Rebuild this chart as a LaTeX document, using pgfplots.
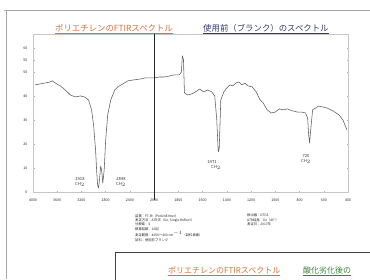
\documentclass[border=0pt]{standalone}
\usepackage{fontspec}
\setmainfont{Noto Sans CJK JP}
\usepackage{pgfplots}
\pgfplotsset{compat=1.18}
\usepackage{pgfplotstable}
\definecolor{ttlorange}{RGB}{214,112,62}
\definecolor{ttlblue}{RGB}{52,58,112}
\definecolor{ttlgreen}{RGB}{62,128,62}
\definecolor{trace}{RGB}{90,90,90}

\pgfplotstableread{
wn T
3967 44.6
3883 45.0
3800 45.4
3717 45.8
3683 46.3
3633 45.4
3550 44.2
3467 42.5
3383 40.4
3300 39.6
3217 40.0
3150 39.6
3083 38.3
3033 34.2
3000 27.9
2967 17.5
2950 9.2
2933 2.9
2918 1.7
2900 5.8
2883 10.8
2867 9.2
2848 3.7
2825 9.2
2800 21.7
2767 32.1
2717 38.3
2650 42.5
2600 43.8
2517 45.0
2433 46.3
2333 46.7
2217 47.1
2150 47.5
2050 47.5
2000 47.5
1958 47.9
1917 47.9
1875 48.3
1833 48.8
1792 48.8
1775 50.0
1767 56.7
1758 55.0
1750 41.3
1725 40.4
1692 40.8
1658 41.7
1625 42.9
1592 41.7
1558 42.5
1525 41.7
1500 40.0
1483 30.0
1471 16.7
1463 18.0
1458 25.8
1450 38.3
1425 41.7
1400 43.3
1375 44.6
1350 44.2
1325 45.4
1300 45.8
1275 44.6
1250 45.4
1225 44.2
1192 43.8
1158 41.7
1125 38.3
1100 37.1
1067 34.2
1033 32.9
1000 33.3
967 34.6
933 34.2
900 34.6
858 33.8
817 33.3
783 33.3
750 32.9
733 30.8
725 23.8
717 20.4
708 25.8
692 34.2
667 35.0
642 35.8
608 35.4
575 35.0
542 34.2
508 33.3
475 32.1
442 30.0
408 25.8
}\spectrum

\begin{document}
\begin{tikzpicture}
\begin{scope}[x=1pt,y=-1pt]
\useasboundingbox (0,0) rectangle (370,279);
\end{scope}
\path[clip] (0pt,0pt) rectangle (370pt,-279pt);
\fill[white] (0pt,0pt) rectangle (370pt,-279pt);

\begin{axis}[
  at={(33pt,-192pt)}, anchor=south west,
  scale only axis, width=315pt, height=158pt,
  xmin=0, xmax=13, ymin=0, ymax=65.8,
  clip=false,
  axis line style={gray!45, line width=0.5pt},
  xtick={0,...,13},
  xticklabels={4000,3600,3200,2800,2400,2000,1800,1600,1400,1200,1000,800,600,400},
  ytick={0,10,20,30,40,50,55,60},
  yticklabels={0,10,20,30,40,50,55,60},
  tick label style={font=\fontsize{3.6}{4}\selectfont, text=black!85},
  xticklabel style={yshift=-3pt},
  yticklabel style={xshift=-2pt},
  major tick length=1.5pt,
  tick style={gray!60, line width=0.4pt},
  /pgf/number format/assume math mode=true,
]
\addplot[trace, line width=0.55pt, line join=round]
  table[x expr={\thisrow{wn}>=2000 ? (4000-\thisrow{wn})/400 : 5+(2000-\thisrow{wn})/200}, y=T] {\spectrum};
\draw[black!85, line width=0.8pt] (axis cs:5,65.8) -- (axis cs:5,-3.5);
\end{axis}

\begin{scope}[x=1pt,y=-1pt]
% page borders
\draw[gray!70, line width=1pt] (4,10) -- (370,10);
\draw[gray!70, line width=0.8pt] (6,10) -- (6,279);
% title
\node[anchor=base west, inner sep=0pt, font=\fontsize{8.4}{9}\selectfont, text=ttlorange] at (55,31)
  {\underline{ポリエチレンのFTIRスペクトル}};
\node[anchor=base west, inner sep=0pt, font=\fontsize{8.4}{9}\selectfont, text=ttlblue] at (203,31)
  {\underline{使用前（ブランク）のスペクトル}};
% peak labels
\begin{scope}[font=\fontsize{4.2}{4.8}\selectfont, text=black!80, inner sep=0pt, align=center]
\node at (80,182) {2918\\[0.6pt]CH$_2$};
\node at (121,182) {2848\\[0.6pt]CH$_2$};
\node at (212,165) {1471\\[0.6pt]\hspace*{8pt}CH$_2$};
\node at (306,159) {720\\[0.6pt]CH$_2$};
\end{scope}
% measurement info
\begin{scope}[font=\fontsize{3.3}{4.4}\selectfont, text=black!85, inner sep=0pt]
\node[anchor=north west, align=left] at (135,214)
  {装置：FT-IR（PerkinElmer）\\
   測定方法：ATR法（Ge, Single Reflect）\\
   分解能：4\\
   積算回数：16回\\
   測定範囲：4000〜400 cm$^{-1}$（試料表面）\\
   試料：使用前ブランク};
\node[anchor=north west, align=left] at (247,214)
  {検出器：DTGS\\
   ATR結晶：Ge（45°）\\
   測定日：2017年};
\end{scope}
% second panel
\draw[black!75, line width=1pt] (115,252) -- (372,252);
\draw[black!75, line width=0.8pt] (115,252) -- (115,281);
\node[anchor=base west, inner sep=0pt, font=\fontsize{8}{9}\selectfont, text=ttlorange] at (168,273)
  {\underline{ポリエチレンのFTIRスペクトル}};
\node[anchor=base west, inner sep=0pt, font=\fontsize{8}{9}\selectfont, text=ttlgreen] at (303,273)
  {\underline{酸化劣化後の}};
\end{scope}
\end{tikzpicture}
\end{document}
